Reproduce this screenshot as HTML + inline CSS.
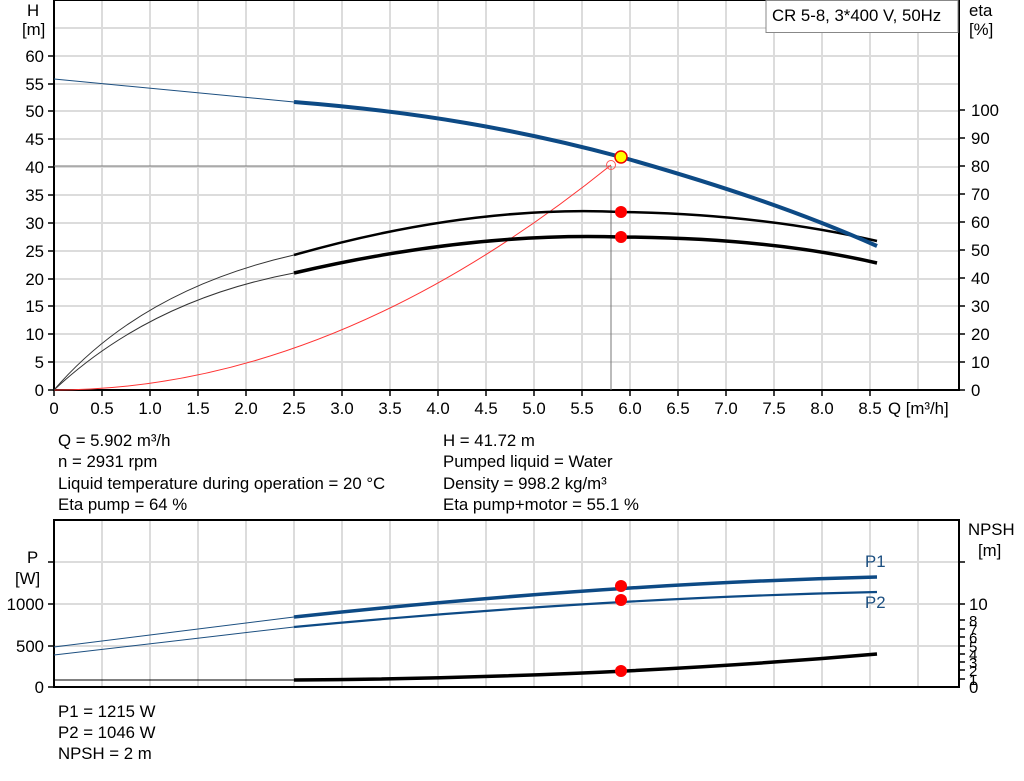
<!DOCTYPE html>
<html><head><meta charset="utf-8"><style>
body{margin:0;background:#fff;}
svg{display:block;font-family:"Liberation Sans",Arial,sans-serif;}
text{font-size:16.8px;fill:#000;}
</style></head><body>
<svg width="1024" height="781" viewBox="0 0 1024 781">
<rect width="1024" height="781" fill="#fff"/>
<g stroke="#dcdcdc" stroke-width="2">
<line x1="102" y1="0" x2="102" y2="390"/><line x1="150" y1="0" x2="150" y2="390"/><line x1="198" y1="0" x2="198" y2="390"/><line x1="246" y1="0" x2="246" y2="390"/><line x1="294" y1="0" x2="294" y2="390"/><line x1="342" y1="0" x2="342" y2="390"/><line x1="390" y1="0" x2="390" y2="390"/><line x1="438" y1="0" x2="438" y2="390"/><line x1="486" y1="0" x2="486" y2="390"/><line x1="534" y1="0" x2="534" y2="390"/><line x1="582" y1="0" x2="582" y2="390"/><line x1="630" y1="0" x2="630" y2="390"/><line x1="678" y1="0" x2="678" y2="390"/><line x1="726" y1="0" x2="726" y2="390"/><line x1="774" y1="0" x2="774" y2="390"/><line x1="822" y1="0" x2="822" y2="390"/><line x1="870" y1="0" x2="870" y2="390"/><line x1="918" y1="0" x2="918" y2="390"/>
<line x1="54" y1="28" x2="959" y2="28"/><line x1="54" y1="56" x2="959" y2="56"/><line x1="54" y1="84" x2="959" y2="84"/><line x1="54" y1="111" x2="959" y2="111"/><line x1="54" y1="139" x2="959" y2="139"/><line x1="54" y1="167" x2="959" y2="167"/><line x1="54" y1="195" x2="959" y2="195"/><line x1="54" y1="223" x2="959" y2="223"/><line x1="54" y1="251" x2="959" y2="251"/><line x1="54" y1="279" x2="959" y2="279"/><line x1="54" y1="306" x2="959" y2="306"/><line x1="54" y1="334" x2="959" y2="334"/><line x1="54" y1="362" x2="959" y2="362"/>
</g>
<g stroke="#000" stroke-width="2" fill="none">
<line x1="54" y1="0" x2="54" y2="391"/><line x1="959" y1="0" x2="959" y2="391"/><line x1="53" y1="390" x2="960" y2="390"/>
<line x1="54" y1="0.5" x2="959" y2="0.5" stroke-width="1"/>
</g>
<g stroke="#000" stroke-width="1.5">
<line x1="48" y1="56" x2="54" y2="56"/><line x1="48" y1="84" x2="54" y2="84"/><line x1="48" y1="111" x2="54" y2="111"/><line x1="48" y1="139" x2="54" y2="139"/><line x1="48" y1="167" x2="54" y2="167"/><line x1="48" y1="195" x2="54" y2="195"/><line x1="48" y1="223" x2="54" y2="223"/><line x1="48" y1="251" x2="54" y2="251"/><line x1="48" y1="279" x2="54" y2="279"/><line x1="48" y1="306" x2="54" y2="306"/><line x1="48" y1="334" x2="54" y2="334"/><line x1="48" y1="362" x2="54" y2="362"/><line x1="48" y1="390" x2="54" y2="390"/>
<line x1="959" y1="110" x2="965" y2="110"/><line x1="959" y1="138" x2="965" y2="138"/><line x1="959" y1="166" x2="965" y2="166"/><line x1="959" y1="194" x2="965" y2="194"/><line x1="959" y1="222" x2="965" y2="222"/><line x1="959" y1="250" x2="965" y2="250"/><line x1="959" y1="278" x2="965" y2="278"/><line x1="959" y1="306" x2="965" y2="306"/><line x1="959" y1="334" x2="965" y2="334"/><line x1="959" y1="362" x2="965" y2="362"/><line x1="959" y1="390" x2="965" y2="390"/>
<line x1="54" y1="390" x2="54" y2="396"/><line x1="102" y1="390" x2="102" y2="396"/><line x1="150" y1="390" x2="150" y2="396"/><line x1="198" y1="390" x2="198" y2="396"/><line x1="246" y1="390" x2="246" y2="396"/><line x1="294" y1="390" x2="294" y2="396"/><line x1="342" y1="390" x2="342" y2="396"/><line x1="390" y1="390" x2="390" y2="396"/><line x1="438" y1="390" x2="438" y2="396"/><line x1="486" y1="390" x2="486" y2="396"/><line x1="534" y1="390" x2="534" y2="396"/><line x1="582" y1="390" x2="582" y2="396"/><line x1="630" y1="390" x2="630" y2="396"/><line x1="678" y1="390" x2="678" y2="396"/><line x1="726" y1="390" x2="726" y2="396"/><line x1="774" y1="390" x2="774" y2="396"/><line x1="822" y1="390" x2="822" y2="396"/><line x1="870" y1="390" x2="870" y2="396"/>
</g>
<g text-anchor="end">
<text x="44" y="62">60</text><text x="44" y="90">55</text><text x="44" y="117">50</text><text x="44" y="145">45</text><text x="44" y="173">40</text><text x="44" y="201">35</text><text x="44" y="229">30</text><text x="44" y="257">25</text><text x="44" y="285">20</text><text x="44" y="312">15</text><text x="44" y="340">10</text><text x="44" y="368">5</text><text x="44" y="396">0</text>
</g>
<text x="27" y="16">H</text><text x="22" y="35">[m]</text>
<text x="969" y="16">eta</text><text x="969" y="35">[%]</text>
<g>
<text x="971" y="116">100</text><text x="971" y="144">90</text><text x="971" y="172">80</text><text x="971" y="200">70</text><text x="971" y="228">60</text><text x="971" y="256">50</text><text x="971" y="284">40</text><text x="971" y="312">30</text><text x="971" y="340">20</text><text x="971" y="368">10</text><text x="971" y="396">0</text>
</g>
<g text-anchor="middle">
<text x="54" y="414">0</text><text x="102" y="414">0.5</text><text x="150" y="414">1.0</text><text x="198" y="414">1.5</text><text x="246" y="414">2.0</text><text x="294" y="414">2.5</text><text x="342" y="414">3.0</text><text x="390" y="414">3.5</text><text x="438" y="414">4.0</text><text x="486" y="414">4.5</text><text x="534" y="414">5.0</text><text x="582" y="414">5.5</text><text x="630" y="414">6.0</text><text x="678" y="414">6.5</text><text x="726" y="414">7.0</text><text x="774" y="414">7.5</text><text x="822" y="414">8.0</text><text x="870" y="414">8.5</text>
</g>
<text x="888" y="414">Q [m³/h]</text>
<rect x="766" y="0.5" width="192" height="32" fill="#fff" stroke="#888" stroke-width="1"/>
<text x="772" y="21">CR 5-8, 3*400 V, 50Hz</text>
<g stroke="#777" stroke-width="1"><line x1="54" y1="166" x2="611" y2="166"/><line x1="611" y1="166" x2="611" y2="390"/></g>
<path d="M54,390 Q332,390 611,165" stroke="#f33" stroke-width="1" fill="none"/>
<circle cx="611" cy="165" r="4.5" fill="none" stroke="#f55" stroke-width="1"/>
<path d="M54,390 Q140,290 294,255" stroke="#333" stroke-width="1" fill="none"/>
<path d="M294,255 Q470,205 621,212 Q760,214 877,241" stroke="#000" stroke-width="2.5" fill="none"/>
<path d="M54,390 Q150,300 294,273" stroke="#333" stroke-width="1" fill="none"/>
<path d="M294,273 Q470,232 621,237 Q770,238 877,263" stroke="#000" stroke-width="3.5" fill="none"/>
<path d="M54,79 L294,102" stroke="#1c4f80" stroke-width="1" fill="none"/>
<path d="M294,102 C420,112 520,130 621,157 C720,185 800,212 877,246" stroke="#0d4a85" stroke-width="4" fill="none"/>
<circle cx="621" cy="212" r="6" fill="#f00"/>
<circle cx="621" cy="237" r="6" fill="#f00"/>
<circle cx="621" cy="157" r="6" fill="#ff0" stroke="#e00" stroke-width="1.5"/>
<text x="58" y="446">Q = 5.902 m³/h</text>
<text x="58" y="467">n = 2931 rpm</text>
<text x="58" y="489">Liquid temperature during operation = 20 °C</text>
<text x="58" y="510">Eta pump = 64 %</text>
<text x="443" y="446">H = 41.72 m</text>
<text x="443" y="467">Pumped liquid = Water</text>
<text x="443" y="489">Density = 998.2 kg/m³</text>
<text x="443" y="510">Eta pump+motor = 55.1 %</text>
<g stroke="#dcdcdc" stroke-width="2">
<line x1="102" y1="520" x2="102" y2="687"/><line x1="150" y1="520" x2="150" y2="687"/><line x1="198" y1="520" x2="198" y2="687"/><line x1="246" y1="520" x2="246" y2="687"/><line x1="294" y1="520" x2="294" y2="687"/><line x1="342" y1="520" x2="342" y2="687"/><line x1="390" y1="520" x2="390" y2="687"/><line x1="438" y1="520" x2="438" y2="687"/><line x1="486" y1="520" x2="486" y2="687"/><line x1="534" y1="520" x2="534" y2="687"/><line x1="582" y1="520" x2="582" y2="687"/><line x1="630" y1="520" x2="630" y2="687"/><line x1="678" y1="520" x2="678" y2="687"/><line x1="726" y1="520" x2="726" y2="687"/><line x1="774" y1="520" x2="774" y2="687"/><line x1="822" y1="520" x2="822" y2="687"/><line x1="870" y1="520" x2="870" y2="687"/><line x1="918" y1="520" x2="918" y2="687"/>
<line x1="54" y1="562" x2="959" y2="562"/><line x1="54" y1="604" x2="959" y2="604"/><line x1="54" y1="646" x2="959" y2="646"/>
</g>
<g stroke="#000" stroke-width="2">
<line x1="53" y1="520" x2="960" y2="520"/><line x1="54" y1="520" x2="54" y2="688"/><line x1="959" y1="520" x2="959" y2="688"/><line x1="53" y1="687" x2="960" y2="687"/>
</g>
<g stroke="#000" stroke-width="1.5">
<line x1="48" y1="562" x2="54" y2="562"/><line x1="48" y1="604" x2="54" y2="604"/><line x1="48" y1="646" x2="54" y2="646"/><line x1="48" y1="687" x2="54" y2="687"/>
<line x1="959" y1="562" x2="965" y2="562"/><line x1="959" y1="604" x2="965" y2="604"/><line x1="959" y1="620" x2="965" y2="620"/><line x1="959" y1="629" x2="965" y2="629"/><line x1="959" y1="637" x2="965" y2="637"/><line x1="959" y1="646" x2="965" y2="646"/><line x1="959" y1="654" x2="965" y2="654"/><line x1="959" y1="662" x2="965" y2="662"/><line x1="959" y1="670" x2="965" y2="670"/><line x1="959" y1="679" x2="965" y2="679"/>
</g>
<text x="27" y="563">P</text><text x="15" y="584">[W]</text>
<text x="968" y="535">NPSH</text><text x="978" y="556">[m]</text>
<g text-anchor="end"><text x="44" y="610">1000</text><text x="44" y="652">500</text><text x="44" y="693">0</text></g>
<text x="969" y="610">10</text>
<g style="font-size:15px"><text x="969" y="626" style="font-size:15px">8</text><text x="969" y="635" style="font-size:15px">7</text><text x="969" y="643" style="font-size:15px">6</text><text x="969" y="652" style="font-size:15px">5</text><text x="969" y="660" style="font-size:15px">4</text><text x="969" y="668" style="font-size:15px">3</text><text x="969" y="676" style="font-size:15px">2</text><text x="969" y="685" style="font-size:15px">1</text></g>
<text x="969" y="693">0</text>
<path d="M54,647 L294,617" stroke="#1c4f80" stroke-width="1" fill="none"/>
<path d="M294,617 Q600,584 877,577" stroke="#0d4a85" stroke-width="3.5" fill="none"/>
<path d="M54,655 L294,627" stroke="#1c4f80" stroke-width="1" fill="none"/>
<path d="M294,627 Q600,598 877,592" stroke="#0d4a85" stroke-width="2.2" fill="none"/>
<path d="M54,680 L294,680" stroke="#000" stroke-width="1" fill="none"/>
<path d="M294,680 Q600,678 877,654" stroke="#000" stroke-width="3.5" fill="none"/>
<text x="865" y="567" style="fill:#1c4f80">P1</text>
<text x="865" y="608" style="fill:#1c4f80">P2</text>
<circle cx="621" cy="586" r="6" fill="#f00"/>
<circle cx="621" cy="600" r="6" fill="#f00"/>
<circle cx="621" cy="671" r="6" fill="#f00"/>
<text x="58" y="717">P1 = 1215 W</text>
<text x="58" y="738">P2 = 1046 W</text>
<text x="58" y="759">NPSH = 2 m</text>
</svg>
</body></html>
